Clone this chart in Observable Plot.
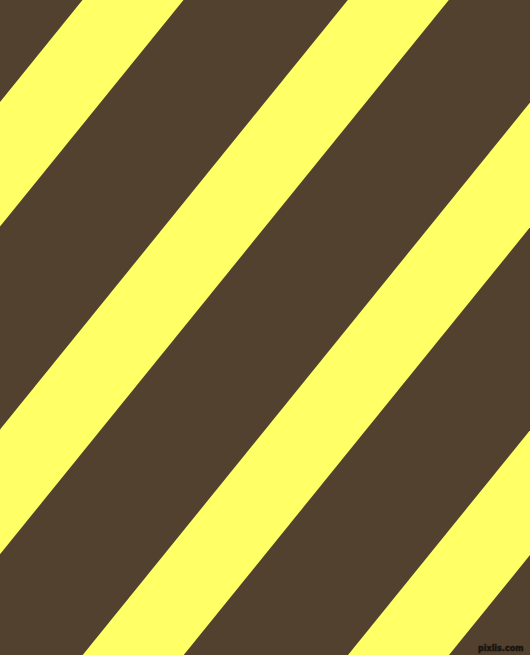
<!DOCTYPE html>
<html>
<head>
<meta charset="utf-8">
<script src="https://cdn.jsdelivr.net/npm/d3@7"></script>
<script src="https://cdn.jsdelivr.net/npm/@observablehq/plot@0.6"></script>
<style>
  html, body { margin: 0; padding: 0; background: #52412E; }
  #chart svg { display: block; }
</style>
</head>
<body>
<div id="chart"></div>
<script>
// Canvas extents (data units = pixels of the pattern)
const canvasWidth = 530;
const canvasHeight = 655;

// Stripe geometry
const stripeAngleDeg = 51;                          // stripes rise at ~51° from horizontal
const stripeIds = ["A", "B", "C", "D"];
const stripeLeftAtTop = [82.5, 347.8, 613.1, 878.4]; // left edge where it meets y = 0
const stripeRightAtTop = [183.5, 448.8, 714.1, 979.4]; // right edge where it meets y = 0

// Colours
const backgroundColor = "#52412E";
const stripeColor = "#FFFF66";
const watermarkText = "pixlis.com";

// Build the band table: each stripe is an area between two parallel slanted edges
const shift = canvasHeight / Math.tan(stripeAngleDeg * Math.PI / 180);
const bands = stripeIds.flatMap((id, i) => [
  {stripe: id, y: 0, x1: stripeLeftAtTop[i], x2: stripeRightAtTop[i]},
  {stripe: id, y: canvasHeight, x1: stripeLeftAtTop[i] - shift, x2: stripeRightAtTop[i] - shift}
]);

const chart = Plot.plot({
  width: canvasWidth,
  height: canvasHeight,
  margin: 0,
  x: {domain: [0, canvasWidth], range: [0, canvasWidth], axis: null},
  y: {domain: [0, canvasHeight], range: [0, canvasHeight], axis: null},
  style: {background: backgroundColor},
  marks: [
    Plot.areaX(bands, {y: "y", x1: "x1", x2: "x2", z: "stripe", fill: stripeColor, curve: "linear", clip: true}),
    Plot.text([watermarkText], {
      frameAnchor: "bottom-right", dx: -7, dy: -5,
      fill: "#17120c", fontSize: 8, fontWeight: "bold", fontFamily: "DejaVu Sans",
      stroke: "#3a2e21", strokeWidth: 1, paintOrder: "stroke"
    })
  ]
});
document.getElementById("chart").appendChild(chart);
</script>
</body>
</html>
